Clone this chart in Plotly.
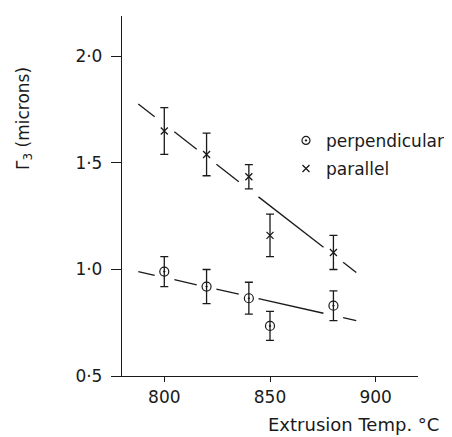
import numpy as np
import plotly.graph_objects as go

# Data
temps = [800, 820, 840, 850, 880]
par_y = [1.65, 1.54, 1.435, 1.16, 1.08]
par_err = [0.11, 0.10, 0.057, 0.10, 0.08]
perp_y = [0.99, 0.92, 0.865, 0.735, 0.83]
perp_err = [0.07, 0.08, 0.075, 0.068, 0.07]

# Fitted trend lines (end points)
par_fit_x = [787.7, 890.8]
par_fit_y = [1.777, 0.986]
perp_fit_x = [787.7, 890.8]
perp_fit_y = [0.99, 0.76]
# x positions where the drawn line is interrupted by a marker
par_gaps = [800, 820, 840, 880]
perp_gaps = [800, 820, 840, 880]
gap_half = 4.5

y_ticks = [0.5, 1.0, 1.5, 2.0]
y_ticktext = ["0·5", "1·0", "1·5", "2·0"]
x_ticks = [800, 850, 900]

INK = "#1a1a1a"
FONT = "DejaVu Sans"


def broken_line(fx, fy, gaps):
    xs = np.linspace(fx[0], fx[1], 400)
    ys = np.interp(xs, fx, fy)
    out_x, out_y = [], []
    prev_in = False
    for x, y in zip(xs, ys):
        inside = any(abs(x - g) < gap_half for g in gaps)
        if inside:
            if not prev_in:
                out_x.append(None)
                out_y.append(None)
            prev_in = True
        else:
            out_x.append(float(x))
            out_y.append(float(y))
            prev_in = False
    return out_x, out_y


fig = go.Figure()

for fx, fy, gaps in [(par_fit_x, par_fit_y, par_gaps), (perp_fit_x, perp_fit_y, perp_gaps)]:
    lx, ly = broken_line(fx, fy, gaps)
    fig.add_trace(go.Scatter(x=lx, y=ly, mode="lines", line=dict(color=INK, width=1.3),
                             showlegend=False, hoverinfo="skip"))

fig.add_trace(go.Scatter(
    x=temps, y=par_y, mode="markers", showlegend=False,
    marker=dict(symbol="x-thin-open", size=7, line=dict(color=INK, width=1.3), color=INK),
    error_y=dict(type="data", array=par_err, color=INK, thickness=1.3, width=4),
))
fig.add_trace(go.Scatter(
    x=temps, y=perp_y, mode="markers", showlegend=False,
    marker=dict(symbol="circle-open-dot", size=9, line=dict(color=INK, width=1.2), color=INK),
    error_y=dict(type="data", array=perp_err, color=INK, thickness=1.3, width=4),
))

# legend entries (one legend box each, to control the spacing)
fig.add_trace(go.Scatter(
    x=[None], y=[None], mode="markers", name="perpendicular", legend="legend",
    marker=dict(symbol="circle-open-dot", size=8, line=dict(color=INK, width=1.2), color=INK),
))
fig.add_trace(go.Scatter(
    x=[None], y=[None], mode="markers", name="parallel", legend="legend2",
    marker=dict(symbol="x-thin-open", size=7, line=dict(color=INK, width=1.3), color=INK),
))

leg_common = dict(x=0.554, xanchor="left", yanchor="middle", bgcolor="rgba(0,0,0,0)",
                  font=dict(size=17, color=INK, family=FONT), itemwidth=30)

fig.update_layout(
    width=452, height=437,
    margin=dict(l=114, r=42, t=8, b=69),
    paper_bgcolor="white", plot_bgcolor="white",
    font=dict(family=FONT, size=15, color=INK),
    legend=dict(y=0.653, **leg_common),
    legend2=dict(y=0.575, **leg_common),
    xaxis=dict(range=[780, 920], tickvals=x_ticks, ticks="outside", ticklen=5, tickwidth=1.3,
               tickcolor=INK, showline=True, linecolor=INK, linewidth=1.3, showgrid=False,
               zeroline=False, tickfont=dict(size=17, family=FONT, color=INK)),
    yaxis=dict(range=[0.5, 2.19], tickvals=y_ticks, ticktext=y_ticktext, ticks="outside",
               ticklen=10, tickwidth=1.3, tickcolor=INK, showline=True, linecolor=INK,
               linewidth=1.3, showgrid=False, zeroline=False, ticklabelstandoff=5,
               tickfont=dict(size=17, family=FONT, color=INK)),
    annotations=[
        dict(text="Extrusion Temp. °C", xref="paper", yref="paper", x=1.074, y=-0.167,
             xanchor="right", yanchor="bottom", showarrow=False, borderpad=0,
             font=dict(size=18, family=FONT, color=INK)),
        dict(text="Γ<sub>3</sub> (microns)", xref="paper", yref="paper", x=-0.33, y=0.715,
             xanchor="center", yanchor="middle", textangle=-90, showarrow=False,
             font=dict(size=17, family=FONT, color=INK)),
    ],
)

fig.write_html("out.html")
